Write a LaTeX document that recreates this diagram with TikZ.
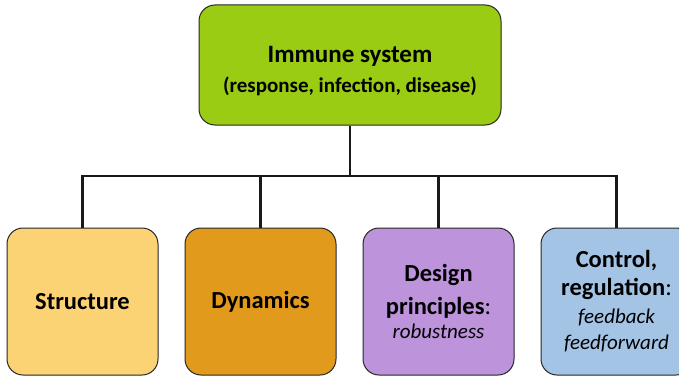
\documentclass[tikz,border=0pt]{standalone}
\usepackage{fontspec}
\setmainfont{Carlito}
\usetikzlibrary{positioning}

\definecolor{topgreen}{HTML}{99CC12}
\definecolor{structyellow}{HTML}{FCD374}
\definecolor{dynorange}{HTML}{E29A1C}
\definecolor{designviolet}{HTML}{BD93DC}
\definecolor{ctrlblue}{HTML}{A4C4E6}

\newcommand{\slant}{\fontsize{21}{25}\selectfont\mdseries\itshape}

\begin{document}
\begin{tikzpicture}[x=1pt,y=-1pt,
                    box node/.style={draw=black!85, line width=1pt, rounded corners=16pt,
                      align=center, inner sep=2pt},
                    leaf node/.style={box node, minimum width=151pt, minimum height=147pt,
                      font=\fontsize{24.5}{28}\selectfont\bfseries},
                    link/.style={draw=black!90, line width=2.2pt}]
  \useasboundingbox (0,0) rectangle (679,377);

  %Root%
  \node[box node, fill=topgreen, minimum width=302pt, minimum height=120pt,
        font=\fontsize{25}{28}\selectfont\bfseries] (immune) at (350,65)
    {\raisebox{-7pt}[\height][\depth]{\begin{tabular}{@{}c@{}}Immune system\\[2pt]
      \fontsize{21}{25}\selectfont (response, infection, disease)\end{tabular}}};

  %Leaves%
  \node[leaf node, fill=structyellow] (structure) at (82.5,301.5) {Structure};
  \node[leaf node, fill=dynorange, right=26pt of structure] (dynamics) {Dynamics};
  \node[leaf node, fill=designviolet, right=26pt of dynamics] (design)
    {Design\\[5pt]principles\textmd{:}\\[-4pt]\slant robustness};
  \node[leaf node, fill=ctrlblue, right=26pt of design] (control)
    {Control,\\regulation\textmd{:}\\[0pt]\slant feedback\\[-2pt]\slant feedforward};

  \coordinate (bus) at (350,176);
  \foreach \leaf in {structure,dynamics,design,control}
    \draw[link] (immune.south) -- (bus) -| (\leaf.north);
\end{tikzpicture}
\end{document}
